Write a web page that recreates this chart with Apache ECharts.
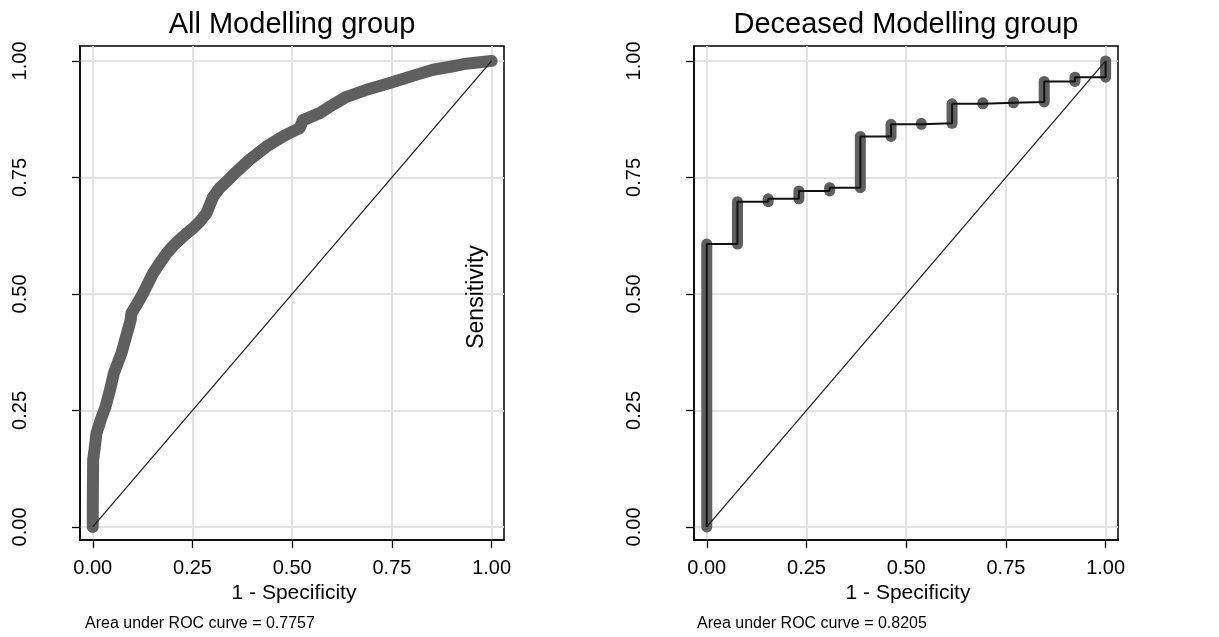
<!DOCTYPE html>
<html><head><meta charset="utf-8">
<script src="https://cdn.jsdelivr.net/npm/echarts@6/dist/echarts.min.js"></script>
<style>html,body{margin:0;padding:0;background:#fff;}#chart{width:1219px;height:637px;}</style>
</head><body><div id="chart"></div>
<script>
const tickValues = [0, 0.25, 0.5, 0.75, 1];
const panelTitles = ['All Modelling group', 'Deceased Modelling group'];
const aucLabels = ['Area under ROC curve = 0.7757', 'Area under ROC curve = 0.8205'];
const xAxisTitle = '1 - Specificity';
const yAxisTitle = 'Sensitivity';
const diagonalX = [0, 1];
const diagonalY = [0, 1];

// All Modelling group ROC (1 - specificity, sensitivity)
const allFpr = [0, 0, 0.001, 0.005, 0.009, 0.020, 0.032, 0.042, 0.053, 0.072, 0.095, 0.097, 0.112, 0.126, 0.140, 0.151, 0.168, 0.185, 0.205, 0.226, 0.250, 0.268, 0.285, 0.302, 0.318, 0.340, 0.360, 0.393, 0.435, 0.477, 0.500, 0.519, 0.527, 0.569, 0.602, 0.636, 0.686, 0.730, 0.769, 0.810, 0.853, 0.900, 0.936, 0.970, 1.0];
const allTpr = [0, 0.050, 0.144, 0.170, 0.200, 0.230, 0.258, 0.290, 0.330, 0.373, 0.444, 0.459, 0.480, 0.501, 0.525, 0.544, 0.566, 0.587, 0.606, 0.623, 0.640, 0.655, 0.673, 0.709, 0.727, 0.745, 0.762, 0.788, 0.816, 0.838, 0.848, 0.856, 0.873, 0.888, 0.906, 0.923, 0.938, 0.949, 0.959, 0.970, 0.981, 0.988, 0.994, 0.997, 1.0];

// Deceased Modelling group ROC vertices
const deceasedFpr = [0, 0, 0.077, 0.077, 0.154, 0.154, 0.231, 0.231, 0.308, 0.308, 0.385, 0.385, 0.462, 0.462, 0.538, 0.538, 0.615, 0.615, 0.692, 0.692, 0.769, 0.769, 0.846, 0.846, 0.923, 0.923, 1.0, 1.0];
const deceasedTpr = [0, 0.607, 0.607, 0.698, 0.698, 0.704, 0.704, 0.721, 0.721, 0.728, 0.728, 0.838, 0.838, 0.864, 0.864, 0.866, 0.866, 0.908, 0.908, 0.910, 0.910, 0.912, 0.912, 0.956, 0.956, 0.965, 0.965, 1.0];

const FONT = "'Liberation Sans', Arial, Helvetica, sans-serif";
const GRAY = '#5f5f5f';
const zip = (xs, ys) => xs.map((x, i) => [x, ys[i]]);

const grids = [
  {left: 80, top: 46, width: 424, height: 494},
  {left: 694, top: 46, width: 424, height: 494}
].map(g => Object.assign(g, {show: true, borderColor: '#000', borderWidth: 1.5, backgroundColor: '#fff', containLabel: false}));

function xAx(i) {
  return {
    gridIndex: i, type: 'value', min: -0.032, max: 1.031,
    axisLine: {show: true, onZero: false, lineStyle: {color: '#000', width: 1.5}},
    axisTick: {show: true, inside: false, length: 8, customValues: tickValues, lineStyle: {color: '#000', width: 1.3}},
    axisLabel: {customValues: tickValues, formatter: v => v.toFixed(2), fontSize: 20, color: '#000', margin: 18, fontFamily: FONT},
    splitLine: {show: true, lineStyle: {color: '#e2e2e2', width: 2}}
  };
}
function yAx(i) {
  return {
    gridIndex: i, type: 'value', min: -0.028, max: 1.032,
    axisLine: {show: true, onZero: false, lineStyle: {color: '#000', width: 1.5}},
    axisTick: {show: true, inside: false, length: 8, customValues: tickValues, lineStyle: {color: '#000', width: 1.3}},
    axisLabel: {customValues: tickValues, formatter: v => v.toFixed(2), fontSize: 20, color: '#000', margin: 50, rotate: 90, fontFamily: FONT},
    splitLine: {show: true, lineStyle: {color: '#e2e2e2', width: 2}}
  };
}

const series = [];
// Left panel curve (dense markers appear as a thick band)
series.push({
  type: 'line', xAxisIndex: 0, yAxisIndex: 0, data: zip(allFpr, allTpr),
  symbol: 'none', silent: true, z: 3,
  lineStyle: {color: GRAY, width: 12, cap: 'round', join: 'round'}
});
// Right panel: thick gray runs where 1-specificity is constant
for (let i = 0; i + 1 < deceasedFpr.length; i++) {
  if (deceasedFpr[i] === deceasedFpr[i + 1]) {
    series.push({
      type: 'line', xAxisIndex: 1, yAxisIndex: 1,
      data: [[deceasedFpr[i], deceasedTpr[i]], [deceasedFpr[i + 1], deceasedTpr[i + 1]]],
      symbol: 'none', silent: true, z: 3,
      lineStyle: {color: GRAY, width: 11, cap: 'round'}
    });
  }
}
// Right panel connecting line
series.push({
  type: 'line', xAxisIndex: 1, yAxisIndex: 1, data: zip(deceasedFpr, deceasedTpr),
  symbol: 'none', silent: true, z: 4,
  lineStyle: {color: '#111', width: 2}
});
// Diagonals
[0, 1].forEach(i => series.push({
  type: 'line', xAxisIndex: i, yAxisIndex: i, data: zip(diagonalX, diagonalY),
  symbol: 'none', silent: true, z: 5,
  lineStyle: {color: '#222', width: 1.3}
}));

const centers = [292, 906];
const noteX = [85, 697];
const graphic = [];
[0, 1].forEach(i => {
  graphic.push({type: 'text', z: 100, x: centers[i], y: 25, style: {text: panelTitles[i], font: `29px ${FONT}`, fill: '#000', align: 'center', verticalAlign: 'middle'}});
  graphic.push({type: 'text', z: 100, x: centers[i] + 2, y: 593, style: {text: xAxisTitle, font: `21px ${FONT}`, fill: '#000', align: 'center', verticalAlign: 'middle'}});
  graphic.push({type: 'text', z: 100, x: noteX[i], y: 624, style: {text: aucLabels[i], font: `16px ${FONT}`, fill: '#000', align: 'left', verticalAlign: 'middle'}});
});
graphic.push({type: 'text', z: 100, x: 477, y: 297, rotation: Math.PI / 2, style: {text: yAxisTitle, font: `23px ${FONT}`, fill: '#000', align: 'center', verticalAlign: 'middle'}});

const chart = echarts.init(document.getElementById('chart'), null, {renderer: 'canvas'});
chart.setOption({
  animation: false,
  backgroundColor: '#fff',
  grid: grids,
  xAxis: [xAx(0), xAx(1)],
  yAxis: [yAx(0), yAx(1)],
  series: series,
  graphic: graphic
});
</script></body></html>
